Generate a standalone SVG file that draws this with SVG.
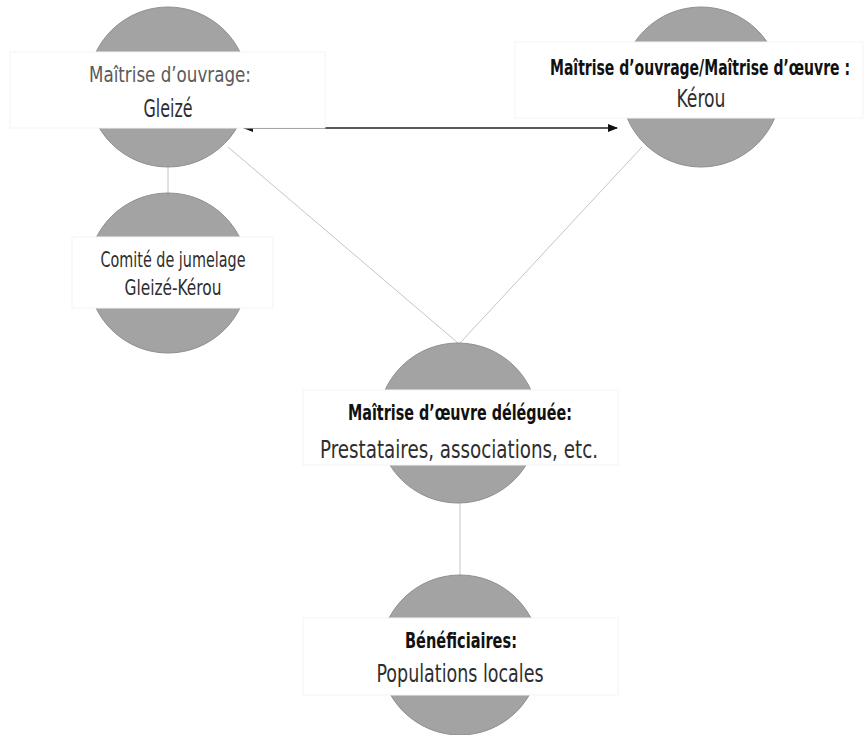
<svg xmlns="http://www.w3.org/2000/svg" width="864" height="735" viewBox="0 0 864 735">
<style>
.circ{fill:#a3a3a3;stroke:#8f8f8f;stroke-width:1}
.band{fill:#ffffff;stroke:#f3f3f3;stroke-width:1}
.t{font-family:"DejaVu Sans Condensed","DejaVu Sans",sans-serif;text-anchor:middle;fill:#2e2e2e}
.h{font-size:22px}
.b{font-weight:bold;fill:#111}
.g{fill:#5a5a5a}
.m{font-size:24px}
.conn{stroke:#c4c4c4;stroke-width:1;fill:none}
.arr{stroke:#222;stroke-width:1.5;fill:none}
</style>
<defs>
<marker id="ah" markerWidth="10" markerHeight="8" refX="9" refY="4" orient="auto-start-reverse" markerUnits="userSpaceOnUse">
<path d="M0,0 L10,4 L0,8 Z" fill="#111"/>
</marker>
</defs>
<g id="connectors">
<line class="conn" x1="168" y1="167" x2="168" y2="193"/>
<line class="conn" x1="228" y1="147" x2="458" y2="343"/>
<line class="conn" x1="642" y1="147" x2="460" y2="343"/>
<line class="conn" x1="460" y1="503" x2="460" y2="575"/>
<line class="arr" x1="244" y1="128" x2="617" y2="128" marker-start="url(#ah)" marker-end="url(#ah)"/>
</g>
<g id="node-gleize">
<circle class="circ" cx="168" cy="87" r="80"/>
<rect class="band" x="10" y="52" width="315" height="76"/>
<text class="t h g" x="170" y="82" textLength="162" lengthAdjust="spacingAndGlyphs">Maîtrise d’ouvrage:</text>
<text class="t m" x="168" y="117" textLength="49" lengthAdjust="spacingAndGlyphs">Gleizé</text>
</g>
<g id="node-kerou">
<circle class="circ" cx="701" cy="87" r="80"/>
<rect class="band" x="515" y="42" width="348" height="76"/>
<text class="t b" font-size="15" transform="translate(700,75) scale(1,1.45)" x="0" y="0" textLength="300" lengthAdjust="spacingAndGlyphs">Maîtrise d’ouvrage/Maîtrise d’œuvre :</text>
<text class="t m" x="701" y="107" textLength="49" lengthAdjust="spacingAndGlyphs">Kérou</text>
</g>
<g id="node-comite">
<circle class="circ" cx="168" cy="273" r="80"/>
<rect class="band" x="72" y="237" width="201" height="71"/>
<text class="t h" x="173" y="267" textLength="145" lengthAdjust="spacingAndGlyphs">Comité  de jumelage</text>
<text class="t h" x="173" y="295" textLength="97" lengthAdjust="spacingAndGlyphs">Gleizé-Kérou</text>
</g>
<g id="node-moe">
<circle class="circ" cx="458" cy="423" r="80"/>
<rect class="band" x="303" y="390" width="315" height="75"/>
<text class="t h b" x="460" y="420" textLength="224" lengthAdjust="spacingAndGlyphs">Maîtrise d’œuvre déléguée:</text>
<text class="t m" x="459" y="458" textLength="278" lengthAdjust="spacingAndGlyphs">Prestataires, associations, etc.</text>
</g>
<g id="node-benef">
<circle class="circ" cx="460" cy="655" r="80"/>
<rect class="band" x="303" y="618" width="315" height="77"/>
<text class="t h b" x="461" y="648" textLength="112" lengthAdjust="spacingAndGlyphs">Bénéficiaires:</text>
<text class="t m" x="460" y="682" textLength="167" lengthAdjust="spacingAndGlyphs">Populations locales</text>
</g>
</svg>
